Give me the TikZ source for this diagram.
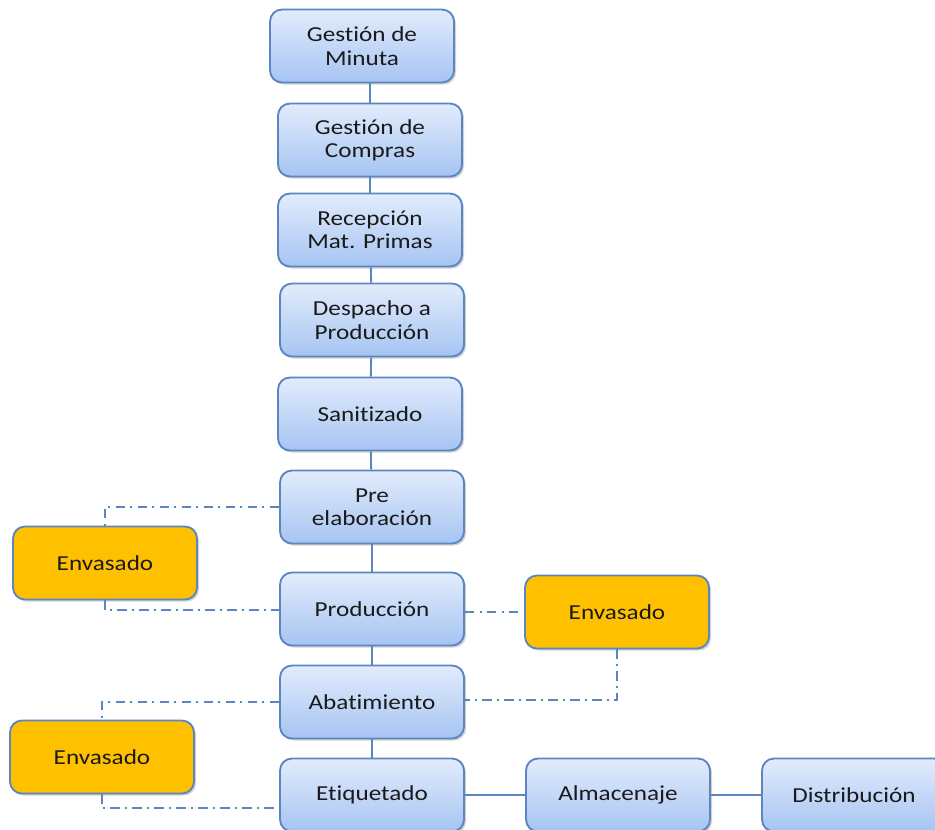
\documentclass[tikz,border=0pt]{standalone}
\usepackage{fontspec}
\setmainfont{Carlito}[FakeStretch=1.18,RawFeature={-liga}]
\usetikzlibrary{shadows,calc}
\definecolor{bord}{HTML}{5B86C0}
\definecolor{ltop}{HTML}{E2ECFC}
\definecolor{lbot}{HTML}{A6C4F2}
\definecolor{orng}{HTML}{FFC000}
\definecolor{txt}{HTML}{1A1A1A}
\tikzset{
  bluebox/.style={draw=bord, line width=1.4pt, rounded corners=9pt, top color=ltop, bottom color=lbot,
    minimum width=138pt, minimum height=54.75pt, align=center, text=txt,
    font=\fontsize{16pt}{17.5pt}\selectfont,
    drop shadow={shadow xshift=1.5pt, shadow yshift=-1.5pt, fill=black!35, opacity=0.5}},
  orangebox/.style={bluebox, top color=orng, bottom color=orng},
  solidlink/.style={draw=bord, line width=1.4pt},
  dashlink/.style={draw=bord, line width=1.4pt, dash pattern=on 7pt off 4pt on 1.5pt off 4pt}
}
\begin{document}
\begin{tikzpicture}[x=0.75pt,y=-0.75pt]
\clip (0,0) rectangle (935,829);
\useasboundingbox (0,0) rectangle (935,829);
\node[bluebox] (minuta) at (362,46) {Gestión de\\Minuta};
\node[bluebox] (compras) at (370,140) {Gestión de\\Compras};
\node[bluebox] (recep) at (370,230) {Recepción\\Mat. Primas};
\node[bluebox] (desp) at (372,320) {Despacho a\\Producción};
\node[bluebox] (sanit) at (370,414) {Sanitizado};
\node[bluebox] (pre) at (372,507) {Pre\\elaboración};
\node[bluebox] (prod) at (372,609) {Producción};
\node[bluebox] (abat) at (372,702) {Abatimiento};
\node[bluebox] (etiq) at (372,795) {Etiquetado};
\node[bluebox] (alma) at (618,795) {Almacenaje};
\node[bluebox] (dist) at (854,795) {Distribución};
\node[orangebox] (env1) at (105,563) {Envasado};
\node[orangebox] (env2) at (617,612) {Envasado};
\node[orangebox] (env3) at (102,757) {Envasado};
\draw[solidlink] (compras.north) -- (compras.north |- minuta.south);
\draw[solidlink] (compras) -- (recep);
\draw[solidlink] (recep) -- (desp);
\draw[solidlink] (desp) -- (sanit);
\draw[solidlink] (sanit) -- (pre);
\draw[solidlink] (pre) -- (prod);
\draw[solidlink] (prod) -- (abat);
\draw[solidlink] (abat) -- (etiq);
\draw[solidlink] (etiq) -- (alma);
\draw[solidlink] (alma) -- (dist);
\draw[dashlink] (pre.west) -| (env1.north);
\draw[dashlink] (env1.south) |- ($(prod.west)+(0,1)$);
\draw[dashlink] ($(prod.east)+(0,3)$) -- ($(env2.west)$);
\draw[dashlink] (env2.south) |- ($(abat.east)+(0,-2)$);
\draw[dashlink] (abat.west) -| (env3.north);
\draw[dashlink] (env3.south) |- ($(etiq.west)+(0,13)$);
\end{tikzpicture}
\end{document}
